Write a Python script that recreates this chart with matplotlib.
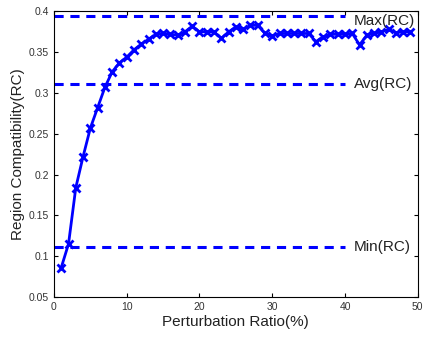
import numpy as np
import matplotlib.pyplot as plt

plt.rcParams['font.family'] = ['Liberation Sans', 'DejaVu Sans']

# Perturbation ratio (%) and region compatibility
ratio = np.arange(1, 50)
rc = [0.086, 0.115, 0.184, 0.222, 0.257, 0.282, 0.307, 0.326, 0.337, 0.344,
      0.353, 0.360, 0.366, 0.372, 0.373, 0.372, 0.371, 0.375, 0.382, 0.375,
      0.375, 0.375, 0.367, 0.375, 0.381, 0.378, 0.383, 0.383, 0.373, 0.370,
      0.373, 0.373, 0.373, 0.373, 0.373, 0.363, 0.369, 0.372, 0.372, 0.372,
      0.373, 0.359, 0.371, 0.373, 0.375, 0.378, 0.374, 0.375, 0.375]

# reference levels
ref_names = ['Max(RC)', 'Avg(RC)', 'Min(RC)']
ref_values = [0.394, 0.311, 0.1115]
label_y = [0.388, 0.311, 0.1115]

blue = '#0000ff'

fig = plt.figure(figsize=(4.25, 3.37), dpi=100)
ax = fig.add_axes([0.127, 0.119, 0.856, 0.847])

ax.plot(ratio, rc, color=blue, lw=2, marker='x', ms=5.5, mew=2)

for name, val, ly in zip(ref_names, ref_values, label_y):
    ax.plot([0, 40], [val, val], color=blue, lw=2.2, ls=(0, (3, 2.2)))
    ax.text(41.2, ly, name, fontsize=11, va='center', ha='left', color='#222222')

ax.set_xlim(0, 50)
ax.set_ylim(0.05, 0.4)
ax.set_xticks(np.arange(0, 51, 10))
ax.set_yticks(np.arange(0.05, 0.401, 0.05))
ax.set_yticklabels(['0.05', '0.1', '0.15', '0.2', '0.25', '0.3', '0.35', '0.4'])
ax.tick_params(direction='in', top=True, right=True, labelsize=7.5, length=3,
               width=0.8, labelcolor='#333333')
ax.set_xlabel('Perturbation Ratio(%)', fontsize=11, labelpad=2, color='#222222')
ax.set_ylabel('Region Compatibility(RC)', fontsize=11, labelpad=3, color='#222222')

fig.savefig('out.png', dpi=100)
